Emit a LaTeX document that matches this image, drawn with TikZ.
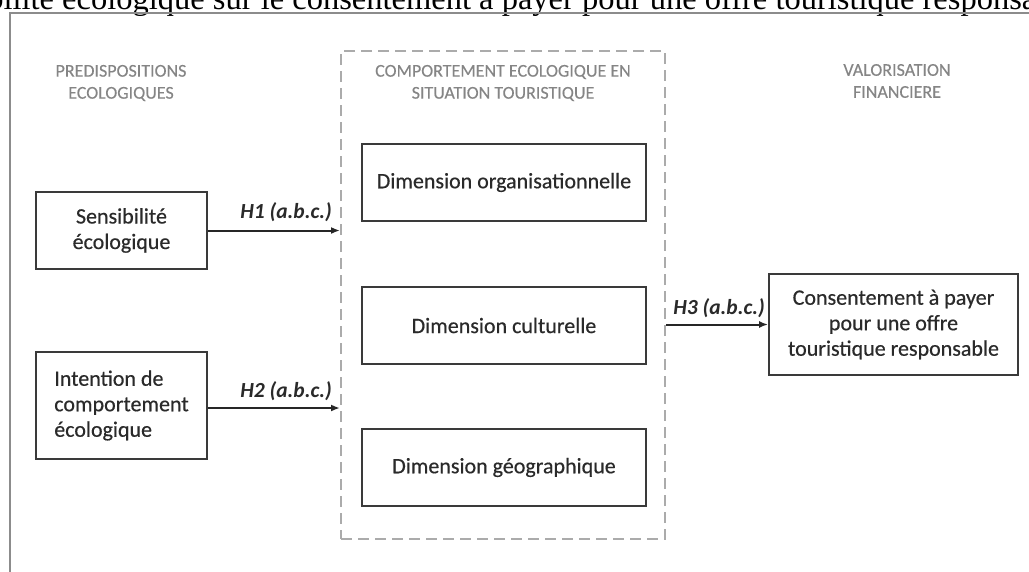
\documentclass[tikz,border=0pt]{standalone}
\usepackage{fontspec}
\setmainfont{Carlito}
\newfontfamily\boxfont{Carlito}[FakeBold=0.5]
\newfontfamily\headfont{Carlito}[FakeBold=0.3]
\newfontfamily\timesfont{Liberation Serif}
\usetikzlibrary{arrows.meta}
\definecolor{boxline}{HTML}{3A3A3A}
\definecolor{txt}{HTML}{2A2A2A}
\definecolor{headgray}{HTML}{858585}
\definecolor{dashgray}{HTML}{ABABAB}
\definecolor{framegray}{HTML}{8C8C8C}
\begin{document}
\begin{tikzpicture}[x=1pt,y=-1pt,
  stepbox/.style={draw=boxline, line width=1.8pt, text=txt,
    font=\boxfont\fontsize{22}{25.5}\selectfont, align=center, inner sep=0pt},
  header/.style={text=headgray, font=\headfont\fontsize{18}{22}\selectfont, align=center, inner sep=0pt},
  hlabel/.style={text=txt, font=\fontsize{21.5}{25}\selectfont\bfseries\itshape, inner sep=0pt},
  link/.style={draw=black!85, line width=2pt, -{Latex[length=9pt,width=7pt]}},
  groupbox/.style={draw=dashgray, line width=2pt, dash pattern=on 11pt off 6pt, inner sep=0pt}
]
\useasboundingbox (0,0) rectangle (1029,571);
\clip (0,0) rectangle (1029,571);
% page frame and cut caption
\node[anchor=base west, inner sep=0pt, text=black, font=\timesfont\fontsize{32.5}{32.5}\selectfont] (caption) at (62,9)
  {\llap{sensibilité }écologique sur le consentement à payer pour une offre touristique responsable};
\coordinate (fbl) at (10,580);
\coordinate (ftl) at (10,13);
\coordinate (ftr) at (1040,13);
\draw[draw=framegray, line width=2pt] (fbl) -- (ftl) -- (ftr);

% headers
\node[header] (h1) at (121,83) {PREDISPOSITIONS\\ECOLOGIQUES};
\node[header] (h2) at (503,83) {COMPORTEMENT ECOLOGIQUE EN\\SITUATION TOURISTIQUE};
\node[header] (h3) at (897,81) {VALORISATION\\FINANCIERE};

% group box
\node[groupbox, minimum width=324pt, minimum height=488pt] (grp) at (503,295) {};

% boxes
\node[stepbox, minimum width=171pt, minimum height=77pt] (sens) at (121.5,230.5) {Sensibilité\\écologique};
\node[stepbox, minimum width=171pt, minimum height=107pt, align=left] (intent) at (121.5,405.5) {Intention de\\comportement\\écologique};
\node[stepbox, minimum width=284pt, minimum height=77pt] (org) at (504,182.5) {Dimension organisationnelle};
\node[stepbox, minimum width=284pt, minimum height=77pt] (cult) at (504,325.5) {Dimension culturelle};
\node[stepbox, minimum width=284pt, minimum height=77pt] (geo) at (504,467.5) {Dimension géographique};
\node[stepbox, minimum width=249pt, minimum height=101pt] (cons) at (893.5,324.5) {Consentement à payer\\pour une offre\\touristique responsable};

% connectors
\draw[link] (sens.east) -- (sens.east -| grp.west);
\draw[link] ([yshift=-2.5pt]intent.east) -- ([yshift=-2.5pt]intent.east -| grp.west);
\draw[link] (grp.east |- cons.west) -- (cons.west);

% labels
\node[hlabel, anchor=base east] (l1) at (332,218) {H1 (a.b.c.)};
\node[hlabel, anchor=base east] (l2) at (332,397) {H2 (a.b.c.)};
\node[hlabel, anchor=base east] (l3) at (765,314) {H3 (a.b.c.)};
\end{tikzpicture}
\end{document}
